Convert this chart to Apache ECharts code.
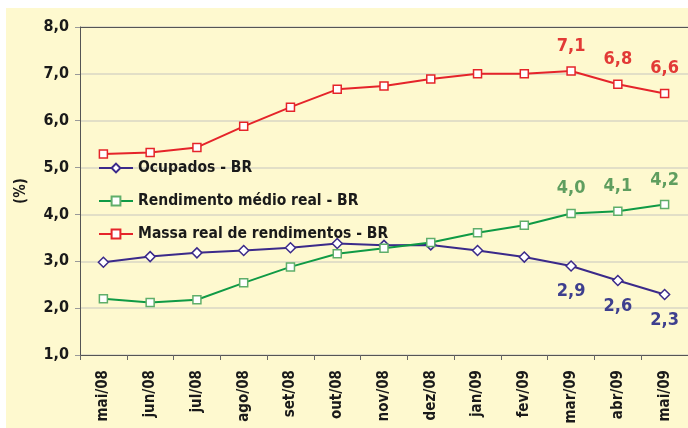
<!DOCTYPE html>
<html>
<head>
<meta charset="utf-8">
<script src="https://cdn.jsdelivr.net/npm/echarts@6/dist/echarts.min.js"></script>
<style>
  html, body { margin: 0; padding: 0; background: #ffffff; }
  #chart { width: 688px; height: 428px; }
</style>
</head>
<body>
<div id="chart"></div>
<script>
// meses
var meses = ['mai/08', 'jun/08', 'jul/08', 'ago/08', 'set/08', 'out/08', 'nov/08',
  'dez/08', 'jan/09', 'fev/09', 'mar/09', 'abr/09', 'mai/09']

// series (%)
var ocupados = [2.98, 3.10, 3.18, 3.23, 3.29, 3.38, 3.34, 3.35, 3.23, 3.09, 2.90, 2.59, 2.29]
var rendimento = [2.20, 2.12, 2.18, 2.54, 2.88, 3.16, 3.28, 3.40, 3.61, 3.77, 4.02, 4.07, 4.21]
var massa = [5.29, 5.32, 5.43, 5.88, 6.29, 6.67, 6.74, 6.89, 7.00, 7.00, 7.06, 6.78, 6.58]

var FONTE = "'Liberation Sans Narrow', 'DejaVu Sans Condensed', 'Roboto', sans-serif"

function virgula (v) {
  return v.toFixed(1).replace('.', ',')
}

// so os tres ultimos pontos tem rotulo
function comRotulo (arr, pos, cor) {
  return arr.map(function (v, i) {
    if (i < arr.length - 3) return v
    return {
      value: v,
      label: {
        show: true,
        position: pos,
        distance: 11,
        color: cor,
        fontFamily: FONTE,
        fontWeight: 'bold',
        fontSize: 18,
        formatter: function (p) { return virgula(p.value) }
      }
    }
  })
}

var myChart = echarts.init(document.getElementById('chart'))
myChart.setOption({
  animation: false,
  backgroundColor: '#ffffff',
  graphic: [{
    type: 'rect',
    z: -10,
    shape: { x: 6, y: 8, width: 682, height: 420 },
    style: { fill: '#fef9cf' }
  }],
  grid: { left: 80, right: 0, top: 27, bottom: 73 },
  legend: {
    orient: 'vertical',
    left: 93,
    top: 155,
    itemWidth: 34,
    itemHeight: 11,
    itemGap: 17,
    textStyle: { fontFamily: FONTE, fontWeight: 'bold', fontSize: 15.5, color: '#1a1a1a' },
    data: ['Ocupados - BR', 'Rendimento médio real - BR', 'Massa real de rendimentos - BR']
  },
  xAxis: [{
    type: 'category',
    data: meses,
    boundaryGap: true,
    axisLine: { lineStyle: { color: '#555555', width: 1 } },
    axisTick: { show: true, length: 5, lineStyle: { color: '#666666' } },
    axisLabel: {
      rotate: 90,
      margin: 15,
      color: '#1a1a1a',
      fontFamily: FONTE,
      fontWeight: 'bold',
      fontSize: 15
    }
  }, {
    type: 'category',
    position: 'top',
    data: meses,
    axisLine: { lineStyle: { color: '#555555', width: 1 } },
    axisTick: { show: false },
    axisLabel: { show: false }
  }],
  yAxis: {
    type: 'value',
    min: 1,
    max: 8,
    interval: 1,
    name: '(%)',
    nameLocation: 'middle',
    nameGap: 51,
    nameRotate: 90,
    nameTextStyle: { fontFamily: FONTE, fontWeight: 'bold', fontSize: 15, color: '#1a1a1a' },
    axisLine: { show: true, lineStyle: { color: '#555555' } },
    axisTick: { show: true, length: 5, lineStyle: { color: '#999999' } },
    splitLine: { lineStyle: { color: '#d9d6c4', width: 1.5 } },
    axisLabel: {
      margin: 11,
      color: '#1a1a1a',
      fontFamily: FONTE,
      fontWeight: 'bold',
      fontSize: 16,
      formatter: function (v) { return virgula(v) }
    }
  },
  series: [{
    name: 'Ocupados - BR',
    type: 'line',
    data: comRotulo(ocupados, 'bottom', '#3e3f8e'),
    symbol: 'diamond',
    symbolSize: 10,
    lineStyle: { color: '#3b2a8a', width: 2 },
    itemStyle: { color: '#ffffff', borderColor: '#3b2a8a', borderWidth: 1.5 }
  }, {
    name: 'Rendimento médio real - BR',
    type: 'line',
    data: comRotulo(rendimento, 'top', '#5f9e5f'),
    symbol: 'rect',
    symbolSize: 8,
    lineStyle: { color: '#0f9a45', width: 2 },
    itemStyle: { color: '#ffffff', borderColor: '#5fae6a', borderWidth: 1.5 }
  }, {
    name: 'Massa real de rendimentos - BR',
    type: 'line',
    data: comRotulo(massa, 'top', '#e23a36'),
    symbol: 'rect',
    symbolSize: 8,
    lineStyle: { color: '#e5242a', width: 2 },
    itemStyle: { color: '#ffffff', borderColor: '#e5242a', borderWidth: 1.5 }
  }]
})
</script>
</body>
</html>
